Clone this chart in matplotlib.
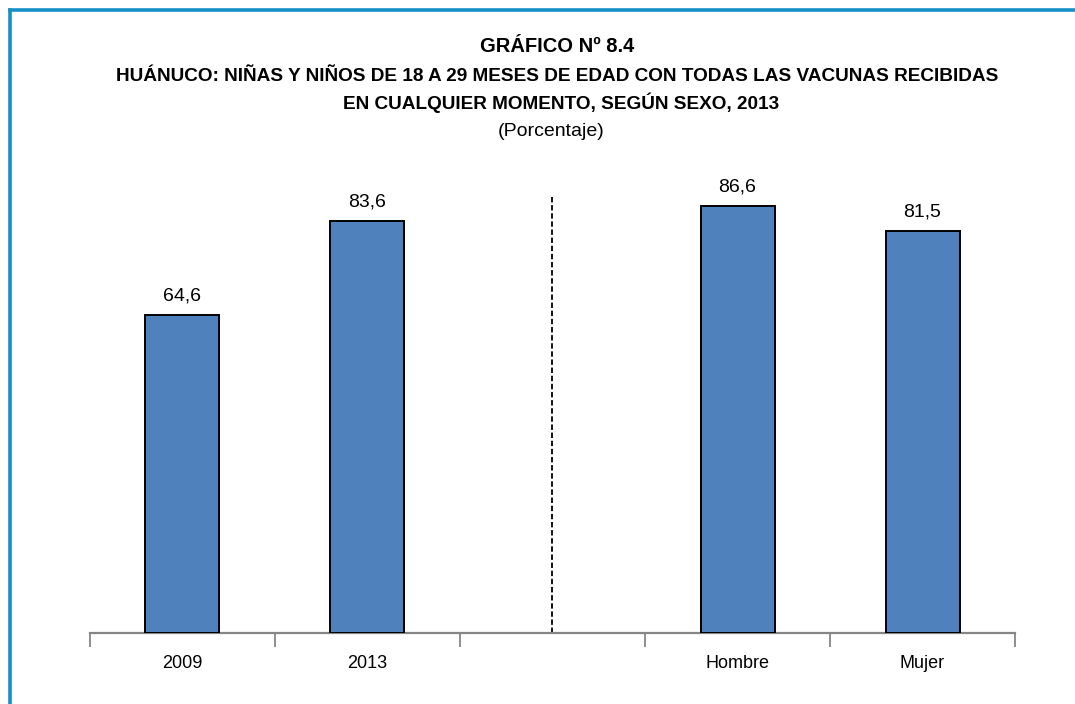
import matplotlib
matplotlib.use("Agg")
import matplotlib.pyplot as plt
from matplotlib.lines import Line2D

plt.rcParams['font.family'] = ['Liberation Sans Narrow', 'Liberation Sans', 'DejaVu Sans']

## Data
categorias = ['2009', '2013', '', 'Hombre', 'Mujer']
valores = [64.6, 83.6, None, 86.6, 81.5]
etiquetas = ['64,6', '83,6', '', '86,6', '81,5']

fig = plt.figure(figsize=(10.75, 7.04), dpi=100)
ax = fig.add_axes([0.0837, 0.1009, 0.8605, 0.7001])

pos = [i for i, v in enumerate(valores) if v is not None]
alturas = [valores[i] for i in pos]
bars = ax.bar(pos, alturas, width=0.4, color='#4F81BD', edgecolor='black', linewidth=1.4, zorder=3)
for b, i in zip(bars, pos):
    ax.annotate(etiquetas[i], (b.get_x() + b.get_width() / 2, b.get_height()),
                xytext=(0, 7.5), textcoords='offset points', ha='center', va='bottom',
                fontsize=14)

# separator between year and sex groups
ax.plot([2, 2], [0, 88.4], color='black', linestyle=(0, (3, 1.5)), linewidth=1.3, zorder=2)

ax.set_xlim(-0.5, len(categorias) - 0.5)
ax.set_ylim(0, 100)
ax.set_xticks(range(len(categorias)))
ax.set_xticklabels(categorias, fontsize=13)
ax.set_xticks([i - 0.5 for i in range(len(categorias) + 1)], minor=True)
ax.tick_params(axis='x', which='major', length=0, pad=16)
ax.tick_params(axis='x', which='minor', length=10, width=1.3, color='#868686')
ax.set_yticks([])
for s in ['top', 'right', 'left']:
    ax.spines[s].set_visible(False)
ax.spines['bottom'].set_color('#868686')
ax.spines['bottom'].set_linewidth(1.6)

## Titles
cx = 0.518
fig.text(cx, 0.934, 'GRÁFICO Nº 8.4', ha='center', va='center', fontsize=14.5, fontweight='bold')
fig.text(cx, 0.892, 'HUÁNUCO: NIÑAS Y NIÑOS DE 18 A 29 MESES DE EDAD CON TODAS LAS VACUNAS RECIBIDAS',
         ha='center', va='center', fontsize=13.7, fontweight='bold')
fig.text(cx + 0.004, 0.854, 'EN CUALQUIER MOMENTO, SEGÚN SEXO, 2013', ha='center', va='center',
         fontsize=13.7, fontweight='bold')
fig.text(cx - 0.005, 0.813, '(Porcentaje)', ha='center', va='center', fontsize=14)

## Frame
fig.add_artist(Line2D([9.5 / 1075, 1.0], [1 - 10 / 704, 1 - 10 / 704], transform=fig.transFigure,
                      color='#1490C6', linewidth=2.6))
fig.add_artist(Line2D([9.5 / 1075, 9.5 / 1075], [0.0, 1 - 10 / 704], transform=fig.transFigure,
                      color='#1490C6', linewidth=2.6))

fig.savefig('out.png', dpi=100)
